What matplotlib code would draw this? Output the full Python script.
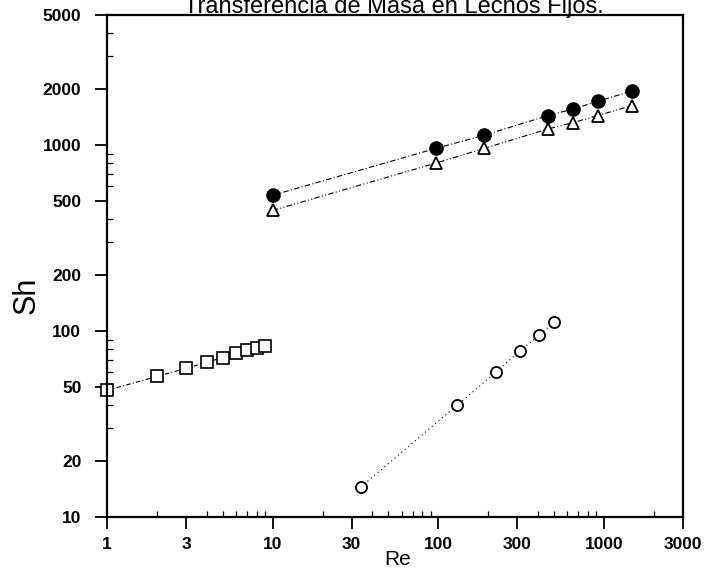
import numpy as np
import matplotlib
matplotlib.use("Agg")
import matplotlib.pyplot as plt
from matplotlib.ticker import FixedLocator, FixedFormatter, LogLocator, NullFormatter

plt.rcParams['font.family'] = ['Liberation Sans', 'DejaVu Sans']

# data
re_sq = [1, 2, 3, 4, 5, 6, 7, 8, 9]
sh_sq = [48, 57, 63, 68, 72, 76, 79, 81, 83]

re_circ = [34, 130, 222, 310, 408, 500]
sh_circ = [14.5, 40, 60, 78, 95, 112]

re_fill = [10, 97, 190, 460, 650, 920, 1470]
sh_fill = [537, 960, 1130, 1440, 1560, 1720, 1950]

re_tri = [10, 97, 190, 460, 650, 920, 1470]
sh_tri = [445, 800, 960, 1220, 1320, 1440, 1630]

xticks = [1, 3, 10, 30, 100, 300, 1000, 3000]
yticks = [10, 20, 50, 100, 200, 500, 1000, 2000, 5000]

fig = plt.figure(figsize=(7.06, 5.81), dpi=100)
ax = fig.add_axes([0.1516, 0.110, 0.8158, 0.8642])

lw = 0.8
ax.plot(re_sq, sh_sq, linestyle=(0, (4, 2, 1, 2)), color='k', linewidth=lw,
        marker='s', markersize=8, markerfacecolor='white', markeredgecolor='k',
        markeredgewidth=1.2, clip_on=False)
ax.plot(re_circ, sh_circ, linestyle=(0, (1, 3)), color='k', linewidth=lw,
        marker='o', markersize=8, markerfacecolor='white', markeredgecolor='k',
        markeredgewidth=1.3)
ax.plot(re_fill, sh_fill, linestyle=(0, (5, 2, 1, 2)), color='k', linewidth=lw,
        marker='o', markersize=9.5, markerfacecolor='k', markeredgecolor='k')
ax.plot(re_tri, sh_tri, linestyle=(0, (5, 2, 1, 2, 1, 2)), color='k', linewidth=lw,
        marker='^', markersize=9, markerfacecolor='white', markeredgecolor='k',
        markeredgewidth=1.3)

ax.set_xscale('log')
ax.set_yscale('log')
ax.set_xlim(1, 3000)
ax.set_ylim(10, 5000)

ax.xaxis.set_major_locator(FixedLocator(xticks))
ax.xaxis.set_major_formatter(FixedFormatter([str(v) for v in xticks]))
ax.yaxis.set_major_locator(FixedLocator(yticks))
ax.yaxis.set_major_formatter(FixedFormatter([str(v) for v in yticks]))
ax.xaxis.set_minor_locator(LogLocator(base=10, subs=np.arange(2, 10)))
ax.yaxis.set_minor_locator(LogLocator(base=10, subs=np.arange(2, 10)))
ax.xaxis.set_minor_formatter(NullFormatter())
ax.yaxis.set_minor_formatter(NullFormatter())

ax.tick_params(which='major', direction='out', length=8.5, width=1.3,
               labelsize=12.5)
ax.tick_params(axis='y', which='major', pad=10)
ax.tick_params(axis='x', which='major', pad=6)
ax.tick_params(which='minor', direction='in', length=4, width=0.9)
for lab in ax.get_xticklabels() + ax.get_yticklabels():
    lab.set_fontweight('bold')
for s in ax.spines.values():
    s.set_linewidth(1.6)

ax.set_xlabel('Re', fontsize=15)
ax.xaxis.set_label_coords(0.505, -0.066)
ax.set_ylabel('Sh', fontsize=22)
ax.yaxis.set_label_coords(-0.113, 0.442)
fig.text(0.558, 1 - 13 / 581, 'Transferencia de Masa en Lechos Fijos.',
         ha='center', va='baseline', fontsize=17)

fig.savefig('out.png', dpi=100)
